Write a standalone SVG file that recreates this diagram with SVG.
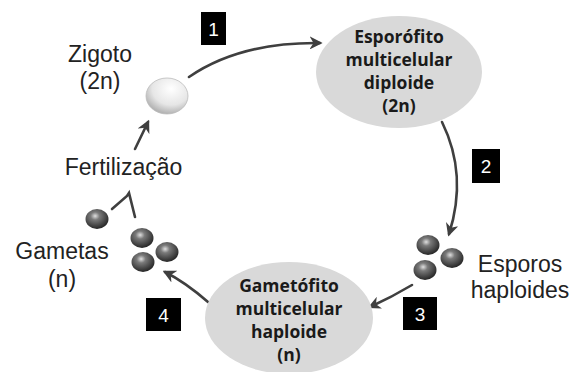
<svg xmlns="http://www.w3.org/2000/svg" width="583" height="372" viewBox="0 0 583 372">
<style>
.lbl{font-family:"Liberation Sans",Arial,sans-serif;font-size:23px;fill:#222;text-anchor:middle}
.bold{font-family:"Open Sans","Liberation Sans",sans-serif;font-weight:bold;font-size:17.5px;fill:#1a1a1a;text-anchor:middle}
.num{font-family:"Liberation Sans",Arial,sans-serif;font-size:19px;fill:#fff;text-anchor:middle}
.box{fill:#000}
.conn{fill:none;stroke:#3f3f3f;stroke-width:2.6;stroke-linecap:round}
.node{fill:#d9d9d9}
.spore{fill:url(#dark)}
</style>
<defs>
<radialGradient id="dark" cx="0.42" cy="0.35" r="0.65">
<stop offset="0" stop-color="#e0e0e0"/>
<stop offset="0.3" stop-color="#7a7a7a"/>
<stop offset="1" stop-color="#262626"/>
</radialGradient>
<radialGradient id="light" cx="0.6" cy="0.3" r="0.75">
<stop offset="0" stop-color="#ffffff"/>
<stop offset="0.6" stop-color="#e6e6e6"/>
<stop offset="1" stop-color="#a8a8a8"/>
</radialGradient>
<marker id="ah" viewBox="0 0 10 10" refX="8" refY="5" markerWidth="5" markerHeight="5" orient="auto" markerUnits="strokeWidth">
<path d="M0,0 L10,5 L0,10 L3,5 Z" fill="#3f3f3f"/>
</marker>
</defs>
<g id="connectors">
<path class="conn" d="M189,77 Q240,42 320,43" marker-end="url(#ah)"/>
<path class="conn" d="M442,122 Q468,175 449,234" marker-end="url(#ah)"/>
<path class="conn" d="M412,285 Q392,297 370,307" marker-end="url(#ah)"/>
<path class="conn" d="M208,302 Q185,282 165,272" marker-end="url(#ah)"/>
<path class="conn" d="M135,149 L148,122" marker-end="url(#ah)"/>
<path class="conn" d="M112,209 L127,196 L129,193 L135,217"/>
</g>
<g id="zigoto">
<ellipse cx="167" cy="96" rx="21" ry="18" fill="url(#light)" stroke="#bbb" stroke-width="0.8"/>
<text class="lbl" x="100" y="62">Zigoto</text>
<text class="lbl" x="100" y="89">(2n)</text>
</g>
<g id="esporofito">
<ellipse class="node" cx="399" cy="72" rx="83" ry="56"/>
<text class="bold" x="399" y="43">Esporófito</text>
<text class="bold" x="399" y="66">multicelular</text>
<text class="bold" x="399" y="89">diploide</text>
<text class="bold" x="399" y="112">(2n)</text>
</g>
<g id="esporos">
<ellipse class="spore" cx="428" cy="245" rx="11.5" ry="10"/>
<ellipse class="spore" cx="452" cy="258" rx="11.5" ry="10"/>
<ellipse class="spore" cx="425" cy="270" rx="11.5" ry="10"/>
<text class="lbl" x="520" y="272">Esporos</text>
<text class="lbl" x="520" y="298">haploides</text>
</g>
<g id="gametofito">
<ellipse class="node" cx="289" cy="318" rx="84" ry="56"/>
<text class="bold" x="289" y="292">Gametófito</text>
<text class="bold" x="289" y="315">multicelular</text>
<text class="bold" x="289" y="338">haploide</text>
<text class="bold" x="289" y="361">(n)</text>
</g>
<g id="gametas">
<ellipse class="spore" cx="97" cy="219" rx="11.5" ry="10"/>
<ellipse class="spore" cx="142" cy="238" rx="11.5" ry="10"/>
<ellipse class="spore" cx="167" cy="252" rx="11.5" ry="10"/>
<ellipse class="spore" cx="143" cy="262" rx="11.5" ry="10"/>
<text class="lbl" x="62" y="259">Gametas</text>
<text class="lbl" x="62" y="287">(n)</text>
</g>
<g id="fertilizacao">
<text class="lbl" x="123.5" y="175">Fertilização</text>
</g>
<g id="box1"><rect class="box" x="201" y="12" width="25" height="33"/><text class="num" x="213.5" y="35.5">1</text></g>
<g id="box2"><rect class="box" x="472" y="149" width="28" height="34"/><text class="num" x="486" y="173">2</text></g>
<g id="box3"><rect class="box" x="403" y="297" width="34" height="33"/><text class="num" x="420" y="320.5">3</text></g>
<g id="box4"><rect class="box" x="146" y="298" width="35" height="33"/><text class="num" x="163.5" y="321.5">4</text></g>
</svg>
